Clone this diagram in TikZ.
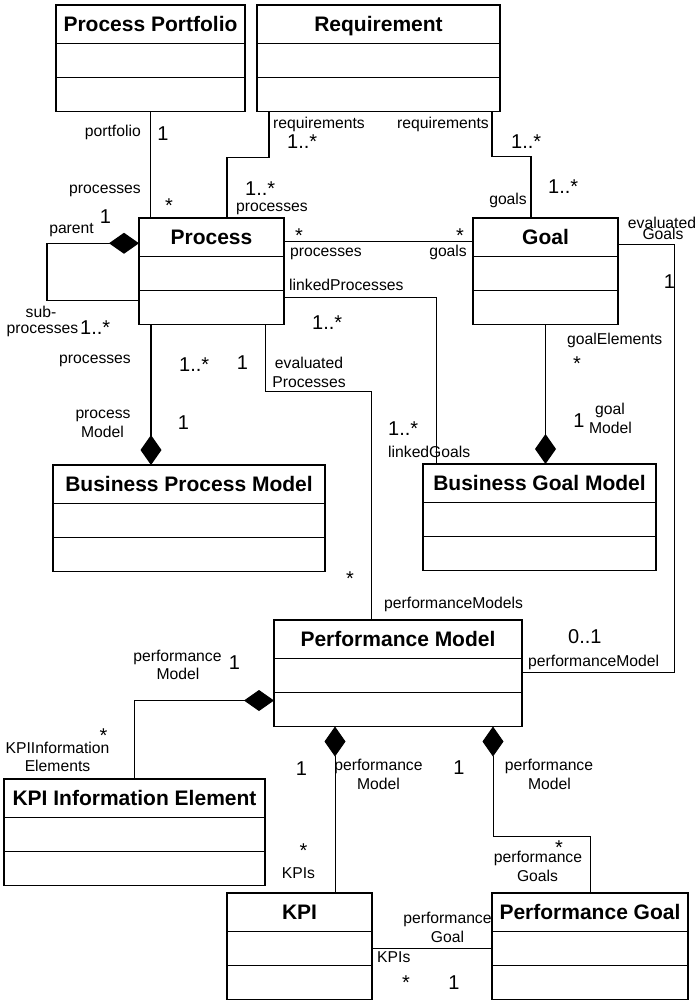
\documentclass[tikz,border=0pt]{standalone}
\usepackage{fontspec}
\setmainfont{Liberation Sans}
\usetikzlibrary{positioning,calc,arrows.meta}
\newcommand{\umlclass}[4]{
    \node[classhead, minimum width=#3] (#1) at (#2) {#4};
    \node[classrow, minimum width=#3, below=0pt of #1] (#1-a) {};
    \node[classrow, minimum width=#3, below=0pt of #1-a] (#1-b) {};
}
\tikzset{
    classhead/.style={draw, rectangle, anchor=north west, line width=1.5pt, outer sep=0pt, inner sep=0pt,
        minimum height=38.5pt, text height=15pt, text depth=0pt, font=\bfseries\fontsize{21}{24}\selectfont},
    classrow/.style={draw, rectangle, line width=1.5pt, outer sep=0pt, inner sep=0pt, minimum height=34pt},
    assoc/.style={line width=1.4pt},
    link/.style={line width=0.9pt},
    compend/.style={-{Diamond[length=30pt,width=21pt]}},
    compstart/.style={{Diamond[length=30pt,width=21pt]}-},
    role/.style={font=\fontsize{15.7}{18}\selectfont, inner sep=0pt, anchor=base},
    mult/.style={font=\fontsize{20}{22}\selectfont, inner sep=0pt, anchor=base}
}
\begin{document}
\begin{tikzpicture}[x=1pt, y=-1pt]
    \useasboundingbox (0,0) rectangle (697,1001);

    \umlclass{pp}{56,5}{189pt}{Process Portfolio}
    \umlclass{req}{257,5}{243pt}{Requirement}
    \umlclass{proc}{139,218}{145pt}{Process}
    \umlclass{goal}{473,218}{145pt}{Goal}
    \umlclass{bpm}{53,465}{272pt}{Business Process Model}
    \umlclass{bgm}{423,464}{233pt}{Business Goal Model}
    \umlclass{pm}{274,620}{248pt}{Performance Model}
    \umlclass{kie}{4,779}{261pt}{KPI Information Element}
    \umlclass{kpi}{227,893}{145pt}{KPI}
    \umlclass{pg}{492,893}{196pt}{Performance Goal}

    \draw[assoc] (pp-b.south) -- (pp-b.south |- proc.north);
    \draw[assoc] ($(req-b.south west)+(12,0)$) -- ++(0,46) -| ($(proc.north west)+(88,0)$);
    \draw[assoc] ($(req-b.south east)+(-8,0)$) -- ++(0,45) -| ($(goal.north west)+(58,0)$);
    \draw[link] ($(proc.east)+(0,4)$) -- ($(goal.west)+(0,4)$);
    \draw[assoc, compstart] ($(proc.west)+(0,6)$) -- ++(-92,0) |- ($(proc-b.north west)+(0,10)$);
    \draw[link] ($(proc-b.north east)+(0,7)$) -| ($(bgm.north west)+(13,0)$);
    \draw[assoc, compend] ($(proc-b.south west)+(12,0)$) coordinate (pb) -- (pb |- bpm.north);
    \draw[link] ($(proc-b.south east)+(-19,0)$) -- ++(0,67) -| ($(pm.north west)+(97,0)$);
    \draw[assoc, compend] (goal-b.south) -- (goal-b.south |- bgm.north);
    \draw[link] ($(goal.east)+(0,7)$) -- ++(56,0) |- ($(pm-a.east)+(0,-3)$);
    \draw[link, compend] (kie.north) |- ($(pm-b.north west)+(0,8)$);
    \draw[link, compstart] ($(pm-b.south west)+(61,0)$) coordinate (pk) -- (pk |- kpi.north);
    \draw[link, compstart] ($(pm-b.south east)+(-29,0)$) -- ++(0,110) -| (pg.north);
    \draw[link] (kpi-a.east) -- (pg-a.west);

    \node[role, anchor=base east] (pp-role) at (141,136) {portfolio};
    \node[mult] (pp-mult) at (163,140) {1};
    \node[role, anchor=base east] (pp-proc-role) at (141,193) {processes};
    \node[mult] (pp-proc-mult) at (169,212) {*};

    \node[role, anchor=base west] (rp-role) at (273,128) {requirements};
    \node[mult, anchor=base west] (rp-mult) at (287,148) {1..*};
    \node[mult, anchor=base west] (rp-proc-mult) at (245,195) {1..*};
    \node[role, anchor=base west] (rp-proc-role) at (236,211) {processes};

    \node[role, anchor=base east] (rg-role) at (489,128) {requirements};
    \node[mult, anchor=base west] (rg-mult) at (511,148) {1..*};
    \node[mult, anchor=base west] (rg-goal-mult) at (548,193) {1..*};
    \node[role, anchor=base east] (rg-goal-role) at (527,204) {goals};

    \node[mult] (pg-proc-mult) at (299,242) {*};
    \node[role, anchor=base west] (pg-proc-role) at (290,256) {processes};
    \node[mult] (pg-goal-mult) at (460,242) {*};
    \node[role, anchor=base east] (pg-goal-role) at (467,256) {goals};

    \node[role, anchor=base east] (parent-role) at (94,233) {parent};
    \node[mult] (parent-mult) at (105.5,223) {1};
    \node[role] (sub-role) at (41,317) {sub-};
    \node[role] (sub-role2) at (42.5,333) {processes};
    \node[mult, anchor=base west] (sub-mult) at (80,334) {1..*};

    \node[role, anchor=base west] (lp-role) at (289,290) {linkedProcesses};
    \node[mult, anchor=base west] (lp-mult) at (312,329) {1..*};
    \node[mult, anchor=base west] (lg-mult) at (388,435) {1..*};
    \node[role, anchor=base west] (lg-role) at (388,457) {linkedGoals};

    \node[role, anchor=base east] (bpm-proc-role) at (131,363) {processes};
    \node[mult, anchor=base west] (bpm-proc-mult) at (179,371) {1..*};
    \node[role] (bpm-role) at (103,418) {process};
    \node[role] (bpm-role2) at (102.5,437) {Model};
    \node[mult] (bpm-mult) at (183.5,429) {1};

    \node[mult] (ep-mult) at (242.5,369) {1};
    \node[role] (ep-role) at (309,368) {evaluated};
    \node[role] (ep-role2) at (309,387) {Processes};
    \node[mult] (ep-pm-mult) at (350,585) {*};
    \node[role, anchor=base west] (ep-pm-role) at (384,608) {performanceModels};

    \node[role, anchor=base west] (bgm-goal-role) at (567,344) {goalElements};
    \node[mult] (bgm-goal-mult) at (577,370) {*};
    \node[mult] (bgm-mult) at (579,427) {1};
    \node[role] (bgm-role) at (610,414) {goal};
    \node[role] (bgm-role2) at (610.5,433) {Model};

    \node[role] (eg-role) at (662,228) {evaluated};
    \node[role] (eg-role2) at (663,239) {Goals};
    \node[mult] (eg-mult) at (669.5,288) {1};
    \node[mult, anchor=base west] (eg-pm-mult) at (568,643) {0..1};
    \node[role, anchor=base west] (eg-pm-role) at (528,666) {performanceModel};

    \node[role] (kie-pm-role) at (177.5,661) {performance};
    \node[role] (kie-pm-role2) at (178,679) {Model};
    \node[mult] (kie-pm-mult) at (234.5,669) {1};
    \node[mult] (kie-mult) at (103.5,742) {*};
    \node[role] (kie-role) at (57.5,753) {KPIInformation};
    \node[role] (kie-role2) at (57.5,771) {Elements};

    \node[mult] (kpi-pm-mult) at (301.5,775) {1};
    \node[role] (kpi-pm-role) at (378.5,770) {performance};
    \node[role] (kpi-pm-role2) at (378.5,789) {Model};
    \node[mult] (kpi-mult) at (303.5,857) {*};
    \node[role] (kpi-role) at (298.5,878) {KPIs};

    \node[mult] (pg-pm-mult) at (459,774) {1};
    \node[role] (pg-pm-role) at (549,770) {performance};
    \node[role] (pg-pm-role2) at (549.5,789) {Model};
    \node[mult] (pgl-mult) at (559,854) {*};
    \node[role] (pgl-role) at (538,862) {performance};
    \node[role] (pgl-role2) at (537.5,881) {Goals};

    \node[role] (kp-pg-role) at (447.5,923) {performance};
    \node[role] (kp-pg-role2) at (447.5,942) {Goal};
    \node[role, anchor=base west] (kp-kpi-role) at (377,962) {KPIs};
    \node[mult] (kp-kpi-mult) at (406,989) {*};
    \node[mult] (kp-pg-mult) at (454,989) {1};
\end{tikzpicture}
\end{document}
